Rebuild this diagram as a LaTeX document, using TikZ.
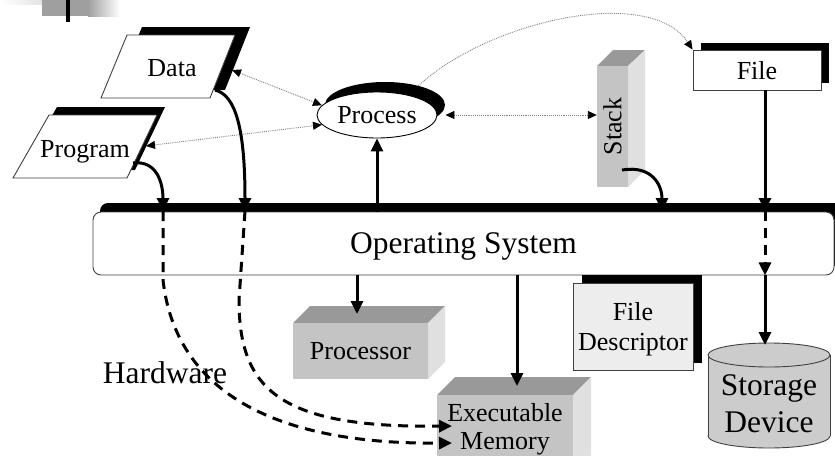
\documentclass[tikz,border=0pt]{standalone}
\usepackage{fontspec}
\setmainfont{Liberation Serif}
\usetikzlibrary{arrows.meta,shapes.geometric}

\definecolor{facefront}{gray}{0.77}
\definecolor{facetop}{gray}{0.60}
\definecolor{faceside}{gray}{0.88}
\definecolor{descfill}{gray}{0.93}
\definecolor{drumfill}{gray}{0.80}

\tikzset{
  lbl/.style={font=\fontsize{26}{30}\selectfont, align=center, inner sep=0pt, text depth=0pt},
  biglbl/.style={font=\fontsize{31.5}{37}\selectfont, align=center, inner sep=0pt, text depth=0pt},
  edge/.style={draw=black!75, line width=0.9pt},
  flow/.style={line width=3pt, -{Triangle[length=13pt,width=12pt]}},
  hwflow/.style={flow, dash pattern=on 10pt off 7pt},
  link/.style={gray, densely dotted, line width=0.9pt, {Triangle[length=9pt,width=8pt,color=black]}-{Triangle[length=9pt,width=8pt,color=black]}},
  linkto/.style={gray, densely dotted, line width=0.9pt, -{Triangle[length=9pt,width=8pt,color=black]}},
  face/.style={fill=facefront, inner sep=0pt, lbl},
}

\begin{document}
\begin{tikzpicture}[x=1pt,y=-1pt]
      \useasboundingbox (0,0) rectangle (835,455);

      % corner ornament
      \shade[left color=white, right color=gray!30] (0,0) rectangle (58,4);
      \fill[gray!75] (42,0) rectangle (88,16);
      \shade[left color=gray!75, right color=white] (88,0) rectangle (120,16);
      \fill (66,0) rectangle (70,22);

      % Data and Program cards with their shadows
      \fill (116,90) -- (225,90) -- (250,27) -- (142,27) -- cycle;
      \filldraw[edge, fill=white] (101,98) -- (210,98) -- (235,35) -- (127,35) -- cycle;
      \node[lbl] (data) at (172,68) {Data};
      \fill (21,170) -- (135,170) -- (165,107) -- (57,107) -- cycle;
      \filldraw[edge, fill=white] (13,178) -- (127,178) -- (157,115) -- (49,115) -- cycle;
      \node[lbl] (prog) at (85,149) {Program};

      % Process
      \node[ellipse, fill, minimum width=120pt, minimum height=46pt] (procshadow) at (385,105) {};
      \node[ellipse, draw, fill=white, line width=0.9pt, minimum width=120pt, minimum height=46pt, lbl] (proc) at (377,115) {Process};

      % Stack
      \fill[facetop] (597,66) -- (613,50) -- (645,50) -- (628,66) -- cycle;
      \fill[faceside] (628,66) -- (645,50) -- (645,170) -- (628,187) -- cycle;
      \node[face, minimum width=31pt, minimum height=121pt] (stack) at (612.5,126.5) {\rotatebox{90}{Stack}};

      % File
      \fill (701,43) rectangle (829,83);
      \node[edge, fill=white, minimum width=128pt, minimum height=40pt, lbl] (file) at (757,70) {File};

      % Operating System
      \fill[rounded corners=8pt] (100,203) rectangle (850,266);
      \node[edge, fill=white, rounded corners=8pt, minimum width=741pt, minimum height=63pt, biglbl] (os) at (463.5,243.5) {Operating System};

      % Processor
      \fill[facetop] (293,323) -- (310,306) -- (445,306) -- (428,323) -- cycle;
      \fill[faceside] (428,323) -- (445,306) -- (445,362) -- (428,379) -- cycle;
      \node[face, minimum width=135pt, minimum height=56pt] (cpu) at (360.5,351) {Processor};

      % Executable Memory
      \fill[facetop] (437,395) -- (455,377) -- (591,377) -- (573,395) -- cycle;
      \fill[faceside] (573,395) -- (591,377) -- (591,455) -- (573,473) -- cycle;
      \node[face, minimum width=136pt, minimum height=62pt, font=\fontsize{26}{28}\selectfont] (mem) at (505,426) {Executable\\Memory};

      % File Descriptor
      \fill (582,275) rectangle (702,363);
      \node[edge, fill=descfill, minimum width=120pt, minimum height=87pt, lbl, font=\fontsize{26}{30.5}\selectfont] (desc) at (633,326.5) {File\\Descriptor};

      % Storage Device
      \filldraw[edge, fill=drumfill] (769,436) ellipse (61 and 12);
      \fill[drumfill] (708,355) rectangle (830,436);
      \draw[edge] (708,355) -- (708,436) (830,355) -- (830,436);
      \filldraw[edge, fill=drumfill] (769,355) ellipse (61 and 12);
      \node[biglbl] (store) at (769,403.5) {Storage\\Device};

      \node[biglbl] (hw) at (165,373) {Hardware};

      % connector ends
      \coordinate (progout) at (133,163);
      \coordinate (dataout) at (215,90);
      \coordinate (stackout) at (622,170);
      \coordinate (dataE) at (232,70);
      \coordinate (progE) at (146,146);
      \coordinate (progin) at (163,211);
      \coordinate (datain) at (245,211);
      \coordinate (stackin) at (662,211);
      \coordinate (filein) at (765,211);
      \coordinate (cpuin) at (357,314);
      \coordinate (memin) at (517,386);
      \coordinate (storein) at (765,345);
      \coordinate (hwA) at (452,443);
      \coordinate (hwB) at (452,426);

      % dotted links
      \draw[link] (dataE) -- (proc.170);
      \draw[link] (progE) -- (proc.190);
      \draw[link] ([xshift=8pt]proc.east) -- (stack.west |- proc.east);
      \draw[linkto] (procshadow.30) .. controls (490,20) and (650,-15) .. (file.north west);

      % into the system
      \draw[flow] (progout) .. controls (158,160) and (163,185) .. (progin);
      \draw[flow] (dataout) .. controls (236,95) and (245,130) .. (datain);
      \draw[flow] (stackout) .. controls (652,165) and (662,185) .. (stackin);
      \draw[flow] ([xshift=8pt]file.south) -- (filein);
      \draw[flow] (os.north -| proc.south) -- (proc.south);

      % out of the system
      \draw[flow] (os.south -| cpuin) -- (cpuin);
      \draw[flow] (os.south -| memin) -- (memin);
      \draw[hwflow] (filein) -- (os.south -| filein);
      \draw[flow] (os.south -| storein) -- (storein);

      % loading into memory
      \draw[hwflow] (progin) -- (163,280) .. controls (172,360) and (230,445) .. (hwA);
      \draw[hwflow] (datain) -- (239,300) .. controls (239,390) and (280,428) .. (hwB);
\end{tikzpicture}
\end{document}
